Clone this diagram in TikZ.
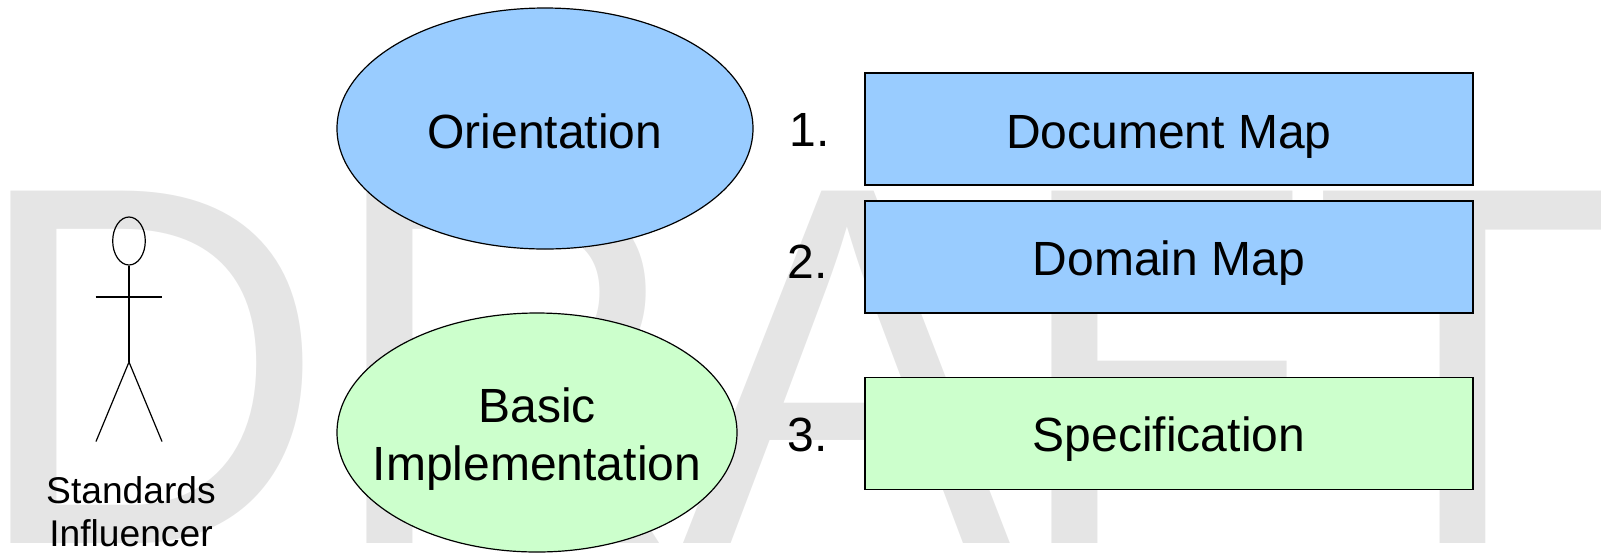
\documentclass[tikz,border=0pt]{standalone}
\usepackage{fontspec}
\setmainfont{Liberation Sans}
\usetikzlibrary{shapes.geometric}

\definecolor{phaseblue}{HTML}{99CCFF}
\definecolor{phasegreen}{HTML}{CCFFCC}
\definecolor{draftgray}{HTML}{E5E5E5}

\tikzset{
  phase/.style={ellipse,draw,line width=.6pt,inner sep=0pt,inner xsep=-12pt,font=\fontsize{24pt}{29pt}\selectfont,align=center},
  artifact/.style={rectangle,draw,line width=.8pt,inner sep=0pt,minimum width=304pt,minimum height=56pt,
    font=\fontsize{24pt}{29pt}\selectfont,text height=23pt,text depth=5pt},
  number/.style={anchor=base west,inner sep=0pt,font=\fontsize{24pt}{29pt}\selectfont},
  stick/.style={line width=.6pt}
}

\begin{document}
\begin{tikzpicture}[x=.5pt,y=-.5pt]

      \useasboundingbox (0,0) rectangle (1601,553);

      \node (draft) at (-30,543) [anchor=base west,inner sep=0pt,text=draftgray,yscale=1.039,transform shape,
        font=\fontsize{246.5pt}{246.5pt}\selectfont] {DRAFT};

      \begin{scope}[every node/.style={phase}]
        \node (orientation) at (545,128.5) [fill=phaseblue,minimum width=208pt,minimum height=120.5pt,
          text height=24pt,text depth=4.5pt] {Orientation};
        \node (basic) at (537,432.5) [fill=phasegreen,minimum width=200pt,minimum height=119.5pt,
          text height=52.5pt] {Basic\\Implementation};
      \end{scope}

      \begin{scope}[every node/.style={artifact}]
        \node (docmap) at (1169,128.75) [fill=phaseblue,text height=24.5pt] {Document Map};
        \node (dommap) at (1169,257) [fill=phaseblue] {Domain Map};
        \node (spec)   at (1169,433.5) [fill=phasegreen] {Specification};
      \end{scope}

      \begin{scope}[every node/.style={number}]
        \node (one)   at (789,146) {1.};
        \node (two)   at (787,278) {2.};
        \node (three) at (787,451) {3.};
      \end{scope}

      % stick figure
      \node (head) at (129,241) [ellipse,draw,line width=.6pt,minimum width=16.3pt,minimum height=24pt,inner sep=0pt] {};
      \coordinate (hip)   at (129,362);
      \coordinate (armL)  at (95.5,297);
      \coordinate (armR)  at (162,297);
      \coordinate (legL)  at (96,441.5);
      \coordinate (legR)  at (162,441.5);
      \draw[stick] (head.south) -- (hip);
      \draw[stick] (armL) -- (armR);
      \draw[stick] (legL) -- (hip) -- (legR);

      \node (actor) at (131,546) [anchor=base,inner sep=0pt,align=center,
        font=\fontsize{18.6pt}{21.5pt}\selectfont] {Standards\\Influencer};

    \end{tikzpicture}
\end{document}
